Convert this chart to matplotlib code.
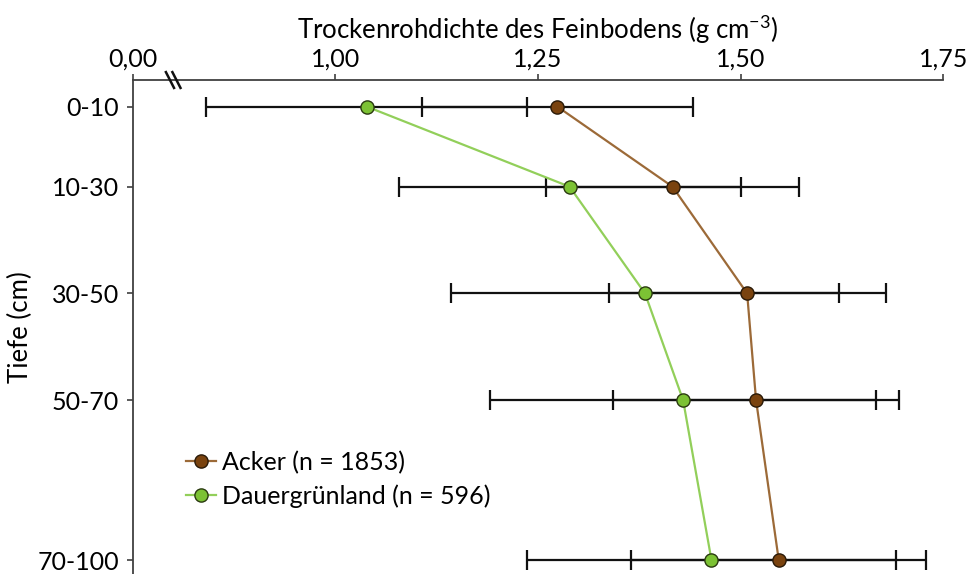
import matplotlib
matplotlib.use('Agg')
import matplotlib.pyplot as plt
import numpy as np

plt.rcParams['font.family'] = ['Lato', 'DejaVu Sans']
plt.rcParams['mathtext.fontset'] = 'custom'
plt.rcParams['mathtext.rm'] = 'Lato'
plt.rcParams['mathtext.default'] = 'regular'

# depth classes (cm) and plotting positions
depth_labels = ['0-10', '10-30', '30-50', '50-70', '70-100']
depth_pos = [5, 20, 40, 60, 90]

# bulk density of fine soil, mean and standard deviation
acker_mean = [1.274, 1.416, 1.508, 1.519, 1.547]
acker_sd = [0.167, 0.156, 0.171, 0.176, 0.182]
gruen_mean = [1.039, 1.289, 1.382, 1.429, 1.464]
gruen_sd = [0.198, 0.211, 0.239, 0.238, 0.228]

xticks = [0.75, 1.00, 1.25, 1.50, 1.75]
xticklabels = ['0,00', '1,00', '1,25', '1,50', '1,75']

c_acker_fill = '#7a430f'
c_acker_line = '#9c6a38'
c_gruen_fill = '#7cc234'
c_gruen_line = '#92cf5a'
axcol = '#404040'
fs = 18

fig = plt.figure(figsize=(9.67, 5.74), dpi=100)
ax = fig.add_axes([0.1372, 0.0, 0.8383, 0.8606])

for m, s in [(acker_mean, acker_sd), (gruen_mean, gruen_sd)]:
    ax.errorbar(m, depth_pos, xerr=s, fmt='none', ecolor='#111111',
                elinewidth=1.6, capsize=7, capthick=1.6, zorder=2)

ax.plot(acker_mean, depth_pos, '-o', color=c_acker_line, lw=1.6,
        mfc=c_acker_fill, mec='#2a1a08', mew=1.0, ms=9.5, zorder=4,
        label='Acker (n = 1853)')
ax.plot(gruen_mean, depth_pos, '-o', color=c_gruen_line, lw=1.6,
        mfc=c_gruen_fill, mec='#2a3a10', mew=1.0, ms=9.5, zorder=3,
        label='Dauergrünland (n = 596)')

ax.set_xlim(0.75, 1.75)
ax.set_ylim(92.6, 0)
ax.xaxis.tick_top()
ax.xaxis.set_label_position('top')
ax.set_xticks(xticks)
ax.set_xticklabels(xticklabels)
ax.set_yticks(depth_pos)
ax.set_yticklabels(depth_labels)
ax.tick_params(axis='both', labelsize=fs, direction='out', length=4,
               width=1.2, color=axcol)
ax.tick_params(axis='x', pad=3)
ax.tick_params(axis='y', pad=6)
ax.set_xlabel(r'Trockenrohdichte des Feinbodens (g cm$^{-3}$)', fontsize=fs + 0.5, labelpad=6)
ax.set_ylabel('Tiefe (cm)', fontsize=fs + 0.5, labelpad=3)

for side in ['right', 'bottom']:
    ax.spines[side].set_visible(False)
for side in ['top', 'left']:
    ax.spines[side].set_color(axcol)
    ax.spines[side].set_linewidth(1.3)

# axis break marks
for dx in [0.046, 0.054]:
    ax.plot([dx - 0.005, dx + 0.005], [1.016, 0.984], transform=ax.transAxes,
            color='#111111', lw=1.8, clip_on=False, zorder=5)

ax.legend(loc='upper left', bbox_to_anchor=(0.05, 0.275), frameon=False,
          fontsize=fs, handlelength=1.2, handletextpad=0.25, labelspacing=0.4,
          borderpad=0)

fig.savefig('out.png', dpi=100)
